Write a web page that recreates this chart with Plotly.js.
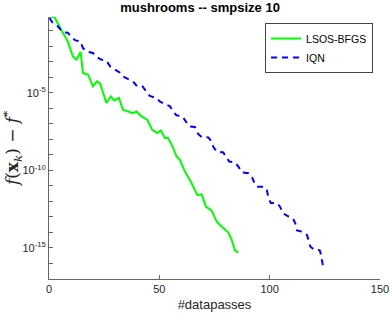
<!DOCTYPE html>
<html><head><meta charset="utf-8">
<script src="https://cdn.plot.ly/plotly-3.0.1.min.js"></script>
<style>html,body{margin:0;padding:0;background:#fff}#c{width:390px;height:313px}</style>
</head><body><div id="c"></div>
<script>
// LSOS-BFGS: datapasses and log10 of f(x_k)-f*
const lsosX = [0.2,2.5,5.5,8.5,10.8,12.4,14.3,15.4,17.7,19.9,21.7,23.2,26.0,28.0,29.5,31.7,33.5,35.9,38.0,39.6,41.9,44.5,46.8,49.0,50.7,52.5,54.0,56.3,57.8,59.3,61.6,64.2,67.2,69.2,71.1,73.7,76.0,78.3,81.3,82.8,84.3,85.8];
const lsosLog = [-0.12,-0.12,-0.94,-1.69,-2.66,-2.87,-2.37,-3.73,-3.84,-4.59,-4.27,-4.42,-5.66,-5.24,-5.50,-5.34,-6.10,-6.21,-6.31,-6.21,-6.52,-6.74,-7.39,-7.60,-7.43,-7.92,-7.92,-8.57,-9.11,-9.32,-10.08,-10.72,-11.58,-11.55,-12.34,-12.59,-13.30,-13.63,-14.01,-14.48,-15.17,-15.30];
// IQN
const iqnX = [0.2,1.5,4.0,6.3,8.5,10.1,12.0,14.2,15.4,17.2,19.9,21.7,23.7,26.0,27.8,29.8,32.0,33.5,36.3,38.1,39.9,42.4,44.2,45.7,48.7,50.2,52.5,54.8,56.3,57.7,60.5,61.8,63.5,66.1,67.6,69.2,72.2,73.7,74.5,76.0,79.0,80.2,81.7,84.3,85.9,87.4,90.4,91.9,93.0,94.2,97.3,98.7,99.5,100.5,103.5,104.8,106.0,107.8,110.5,111.6,112.4,114.6,116.9,117.6,118.4,120.0,122.7,123.3,123.7,124.3];
const iqnLog = [-0.18,-0.46,-0.72,-1.11,-1.13,-1.41,-1.63,-1.69,-2.12,-2.34,-2.44,-2.70,-2.87,-2.94,-3.32,-3.48,-3.69,-3.95,-4.12,-4.27,-4.59,-4.59,-4.94,-5.21,-5.34,-5.56,-5.73,-5.87,-6.21,-6.45,-6.53,-6.84,-7.17,-7.21,-7.65,-7.86,-7.88,-8.14,-8.50,-8.79,-8.85,-9.13,-9.43,-9.48,-9.77,-10.13,-10.18,-10.39,-10.79,-11.05,-11.05,-11.26,-11.79,-12.10,-12.12,-12.37,-12.76,-12.92,-13.08,-13.41,-13.87,-13.95,-14.16,-14.48,-14.90,-15.10,-15.15,-15.45,-15.84,-16.31];
const xTicks = [0,50,100,150];
const yMinorExp = [-17,-16,-14,-13,-12,-11,-9,-8,-7,-6,-4,-3,-2,-1];
const yLabelExp = [-15,-10,-5];
const names = ['LSOS-BFGS','IQN'];

const pow = a => a.map(v => Math.pow(10, v));
const yTickVals = yLabelExp.map(e => Math.pow(10, e));
const yTickText = yLabelExp.map(e => '10<sup>' + e + '</sup>');
const yMinorVals = yMinorExp.map(e => Math.pow(10, e));

const traces = [
  {x: lsosX, y: pow(lsosLog), name: names[0], mode: 'lines', line: {color: '#00ff00', width: 2}},
  {x: iqnX, y: pow(iqnLog), name: names[1], mode: 'lines', line: {color: '#0000ff', width: 2, dash: '6px,5px'}}
];
const axCol = '#666';
const layout = {
  width: 390, height: 313,
  margin: {l: 49, r: 10, t: 17, b: 34},
  paper_bgcolor: '#fff', plot_bgcolor: '#fff',
  font: {family: 'Liberation Sans, Arial, sans-serif', color: '#262626', size: 11},
  title: {text: '<b>mushrooms -- smpsize 10</b>', x: 0.513, xanchor: 'center', y: 0.99, yanchor: 'top', font: {size: 13, color: '#000'}},
  showlegend: true,
  legend: {x: 0.979, xanchor: 'right', y: 0.977, yanchor: 'top', bgcolor: '#fff', bordercolor: '#444', borderwidth: 1, font: {size: 10.5, color: '#000'}, tracegroupgap: 0, itemwidth: 30},
  xaxis: {range: [0, 150], tickvals: xTicks, ticks: 'inside', ticklen: 4, tickcolor: axCol, showline: true, linecolor: axCol, linewidth: 1, showgrid: false, zeroline: false,
    tickfont: {size: 11, color: '#262626'},
    title: {text: '#datapasses', font: {size: 13, color: '#262626'}, standoff: 5}},
  yaxis: {type: 'log', range: [-17, -0.12], tickvals: yTickVals, ticktext: yTickText, ticks: 'inside', ticklen: 4, tickcolor: axCol, showline: true, linecolor: axCol, linewidth: 1, showgrid: false, zeroline: false,
    minor: {tickmode: 'array', tickvals: yMinorVals, ticks: 'inside', ticklen: 4, tickcolor: axCol, showgrid: false},
    tickfont: {size: 11, color: '#262626'},
    title: {text: '<i>f</i>(<b>x</b><sub><i>k</i></sub>) − <i>f</i><sup>*</sup>', font: {size: 17, family: 'DejaVu Serif, Liberation Serif, serif', color: '#262626'}, standoff: 2}}
};
Plotly.newPlot('c', traces, layout, {staticPlot: true, displayModeBar: false});
</script></body></html>
